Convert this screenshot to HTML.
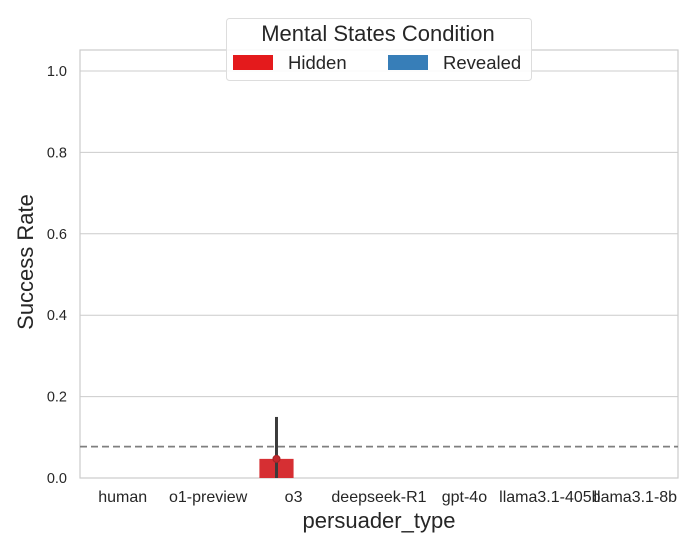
<!DOCTYPE html>
<html><head><meta charset="utf-8"><style>body{margin:0;background:#fff}svg{display:block;font-family:"Liberation Sans",Arial,sans-serif}</style></head>
<body>
<svg id="chart" width="700" height="550"></svg>
<script>
const categories=["human","o1-preview","o3","deepseek-R1","gpt-4o","llama3.1-405b","llama3.1-8b"];
const hiddenValues=[0,0,0.047,0,0,0,0];
const hiddenErrLow=[0,0,0,0,0,0,0];
const hiddenErrHigh=[0,0,0.15,0,0,0,0];
const revealedValues=[0,0,0,0,0,0,0];
const yTicks=[0.0,0.2,0.4,0.6,0.8,1.0];
const baseline=[0.077];
const NS="http://www.w3.org/2000/svg";
const svg=document.getElementById("chart");
const L=80,R=678,T=50,B=478;
const y=v=>B-v*407;
const band=(R-L)/categories.length;
const xc=i=>L+band*(i+0.5);
function mk(t,a,p){const e=document.createElementNS(NS,t);for(const k in a)e.setAttribute(k,a[k]);(p||svg).appendChild(e);return e;}
const grid=mk("g",{});


yTicks.forEach(v=>{
 const l=mk("line",{x1:L,x2:R,y1:y(v),y2:y(v),stroke:"#cccccc","stroke-width":1},grid);
 
 
 const t=mk("text",{x:L-13,y:y(v)+5,"text-anchor":"end","font-size":14.5,fill:"#262626"});
 t.textContent=v.toFixed(1);
 
 
});
const frame=mk("rect",{x:L,y:T,width:R-L,height:B-T,fill:"none",stroke:"#cccccc","stroke-width":1.2});


const bw=band*0.8/2;
categories.forEach((c,i)=>{
 const t=mk("text",{x:xc(i),y:502,"text-anchor":"middle","font-size":16,fill:"#262626"});
 t.textContent=c;
 
 
 const hv=hiddenValues[i];
 if(hv>0){
  const r=mk("rect",{x:xc(i)-bw,y:y(hv),width:bw,height:y(0)-y(hv),fill:"#d62f33"});
  
  
 }
 const rv=revealedValues[i];
 if(rv>0){
  const r=mk("rect",{x:xc(i),y:y(rv),width:bw,height:y(0)-y(rv),fill:"#3a7fba"});
  
  
 }
 if(hiddenErrHigh[i]>0){
  const ex=xc(i)-bw/2;
  const e=mk("line",{x1:ex,x2:ex,y1:y(hiddenErrLow[i]),y2:y(hiddenErrHigh[i]),stroke:"#3b3b3b","stroke-width":3});
  
  
  const d=mk("circle",{cx:ex,cy:y(hv),r:3.5,fill:"#c0282d",stroke:"#a52226"});
  
  
 }
});
const bl=mk("line",{x1:L,x2:R,y1:y(baseline[0]),y2:y(baseline[0]),stroke:"#7f7f7f","stroke-width":1.8,"stroke-dasharray":"7,4"});


const xt=mk("text",{x:(L+R)/2,y:528,"text-anchor":"middle","font-size":22,fill:"#262626"});
xt.textContent="persuader_type";


const yt=mk("text",{x:33,y:262,"text-anchor":"middle","font-size":22,fill:"#262626",transform:"rotate(-90 33 262)"});
yt.textContent="Success Rate";


const lg=mk("g",{});


mk("rect",{x:226.5,y:18.5,width:305,height:62,rx:3,fill:"#fff","fill-opacity":0.85,stroke:"#dddddd"},lg);
const lt=mk("text",{x:378,y:41,"text-anchor":"middle","font-size":22,fill:"#262626"},lg);
lt.textContent="Mental States Condition";


const p1=mk("rect",{x:233,y:55,width:40,height:15,fill:"#e41a1c"},lg);


const t1=mk("text",{x:288,y:69,"font-size":18.5,fill:"#262626"},lg);
t1.textContent="Hidden";


const p2=mk("rect",{x:388,y:55,width:40,height:15,fill:"#377eb8"},lg);


const t2=mk("text",{x:443,y:69,"font-size":18.5,fill:"#262626"},lg);
t2.textContent="Revealed";


</script>
</body></html>
